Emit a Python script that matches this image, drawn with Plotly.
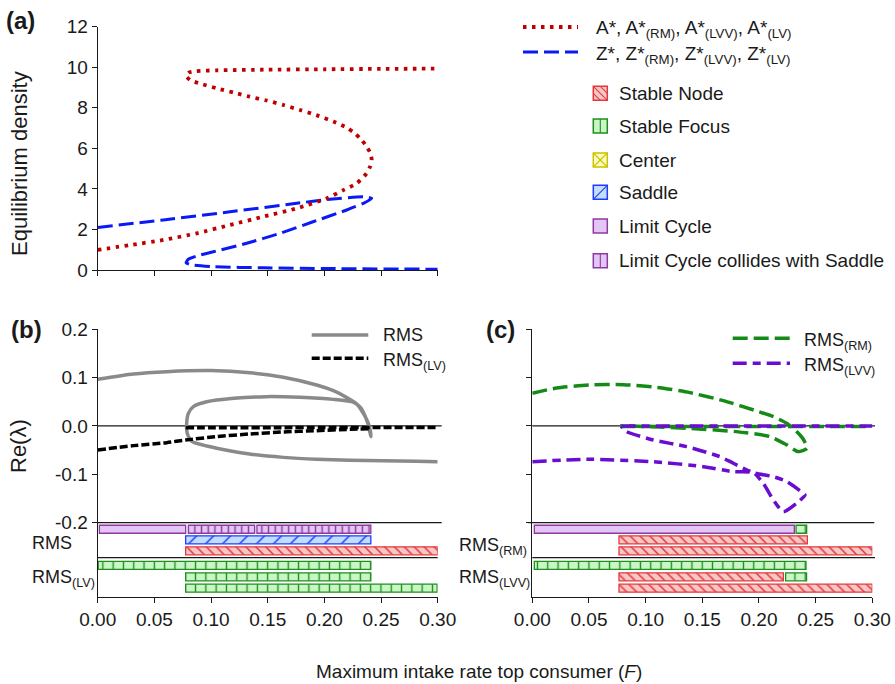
import plotly.graph_objects as go

W, H = 895, 684
FONT = "Arial, Liberation Sans, sans-serif"
INK = "#1a1a1a"

# ---------------- data ----------------
F_TICKS = [0.00, 0.05, 0.10, 0.15, 0.20, 0.25, 0.30]
DENS_TICKS = [0, 2, 4, 6, 8, 10, 12]
RE_TICKS = [-0.2, -0.1, 0.0, 0.1, 0.2]
RE_TICK_TEXT = ["-0.2", "-0.1", "0.0", "0.1", "0.2"]

# (a) equilibrium densities (A* red, Z* blue) along the fold curves
A_F = [0.0, 0.0285, 0.0579, 0.0874, 0.1167, 0.146, 0.1756, 0.202, 0.2167, 0.2285, 0.2373, 0.2403, 0.2418,
       0.2403, 0.2365, 0.2315, 0.2255, 0.2197, 0.208, 0.193, 0.1785, 0.1638, 0.149, 0.134, 0.12, 0.105,
       0.09, 0.0815, 0.078, 0.080, 0.087, 0.105, 0.15, 0.20, 0.25, 0.30]
A_DENS = [0.99, 1.23, 1.48, 1.81, 2.22, 2.63, 3.04, 3.53, 3.94, 4.27, 4.77, 5.1, 5.42,
          5.8, 6.15, 6.5, 6.8, 7.02, 7.32, 7.64, 7.89, 8.14, 8.36, 8.55, 8.75, 8.96,
          9.2, 9.37, 9.57, 9.73, 9.81, 9.85, 9.88, 9.9, 9.92, 9.93]
Z_F = [0.0, 0.058, 0.1167, 0.1756, 0.205, 0.2344, 0.2418,
       0.2344, 0.2197, 0.19, 0.161, 0.1315, 0.102, 0.0874, 0.080, 0.078,
       0.083, 0.102, 0.146, 0.205, 0.30]
Z_DENS = [2.1, 2.47, 2.87, 3.29, 3.49, 3.61, 3.53,
          3.29, 2.96, 2.38, 1.81, 1.32, 0.90, 0.69, 0.53, 0.36,
          0.25, 0.16, 0.11, 0.07, 0.04]

# (b) Re(lambda): RMS (grey) and RMS(LV) (black dashed)
RMS_F = [0.0, 0.0315, 0.0609, 0.1, 0.1344, 0.1638, 0.1932, 0.208, 0.2197, 0.2285, 0.2344, 0.2388, 0.2409, 0.241,
         0.239, 0.236, 0.232, 0.226, 0.208, 0.1785, 0.149, 0.12, 0.0962, 0.0844, 0.080, 0.0785, 0.079, 0.083,
         0.105, 0.134, 0.1638, 0.193, 0.2226, 0.252, 0.2815, 0.30]
RMS_RE = [0.0966, 0.1076, 0.1124, 0.1145, 0.110, 0.1007, 0.0848, 0.073, 0.059, 0.0455, 0.026, 0.0055, -0.015, -0.022,
          0.0, 0.02, 0.038, 0.049, 0.055, 0.0593, 0.0607, 0.0572, 0.050, 0.040, 0.026, 0.0055, -0.015, -0.032,
          -0.046, -0.058, -0.065, -0.069, -0.071, -0.072, -0.073, -0.074]
LV_F_1 = [0.0, 0.0315, 0.0609, 0.0776, 0.105, 0.134, 0.164, 0.193, 0.2226, 0.240]
LV_RE_1 = [-0.0497, -0.0407, -0.0345, -0.029, -0.022, -0.0166, -0.0124, -0.0097, -0.0069, -0.0055]
LV_F_2 = [0.0776, 0.12, 0.16, 0.20, 0.24, 0.30]
LV_RE_2 = [-0.0035, -0.0035, -0.0035, -0.003, -0.003, -0.003]

# (c) Re(lambda): RMS(RM) (green) and RMS(LVV) (purple)
RM_F_1 = [0.0, 0.0215, 0.0509, 0.0803, 0.1097, 0.139, 0.1685, 0.198, 0.2126, 0.2244, 0.2332, 0.2391, 0.2424,
          0.2347, 0.2244, 0.2097, 0.180, 0.136, 0.1068, 0.0774]
RM_RE_1 = [0.0676, 0.0786, 0.0848, 0.0855, 0.080, 0.069, 0.0524, 0.031, 0.0193, 0.0055, -0.0117, -0.0276, -0.046,
           -0.053, -0.039, -0.022, -0.0117, -0.0048, -0.0014, 0.0]
RM_F_2 = [0.0774, 0.15, 0.20, 0.25, 0.30]
RM_RE_2 = [-0.001, -0.001, -0.001, -0.001, -0.001]
LVV_F_1 = [0.0, 0.048, 0.1068, 0.1509, 0.1774, 0.195, 0.2038, 0.2127, 0.2215, 0.2333, 0.2406,
           0.2391, 0.2245, 0.2127, 0.195, 0.1774, 0.1656, 0.1362, 0.1068, 0.0833, 0.0803, 0.0788]
LVV_RE_1 = [-0.0739, -0.0689, -0.0739, -0.0842, -0.0946, -0.0966, -0.1186, -0.1531, -0.1773, -0.16, -0.1428,
            -0.1393, -0.1152, -0.1049, -0.0966, -0.0772, -0.0635, -0.0428, -0.029, -0.0118, -0.0048, -0.001]
LVV_F_2 = [0.0788, 0.15, 0.20, 0.25, 0.30]
LVV_RE_2 = [0.0, 0.0, 0.0, 0.0, 0.0]

# stability bars (row index, state, start F, end F)
B_ROW = [0, 0, 0, 1, 2, 3, 4, 5]
B_STATE = ["lc", "lcs", "lcs", "saddle", "node", "focus", "focus", "focus"]
B_START = [0.0015, 0.080, 0.1405, 0.0776, 0.0776, 0.0005, 0.0776, 0.0776]
B_END = [0.0776, 0.1385, 0.241, 0.241, 0.30, 0.241, 0.241, 0.2995]

C_ROW = [0, 0, 1, 2, 3, 4, 4, 5]
C_STATE = ["lc", "focus", "node", "node", "focus", "node", "focus", "node"]
C_START = [0.0018, 0.2327, 0.0765, 0.0765, 0.0018, 0.0765, 0.2235, 0.0765]
C_END = [0.2312, 0.2421, 0.2427, 0.30, 0.2415, 0.2215, 0.242, 0.30]

LEGEND_STATES = ["node", "focus", "center", "saddle", "lc", "lcs"]

# ---------------- styles / layout constants ----------------
STYLE = {
    "node":   dict(name="Stable Node", fill="#F9C6C6", edge="#E2383C", shape="\\", size=7, sol=0.22),
    "focus":  dict(name="Stable Focus", fill="#C8F6C4", edge="#1F8E1F", shape="|", size=10.3, sol=0.13),
    "center": dict(name="Center", fill="#FBFBC0", edge="#C8C200", shape="x", size=7, sol=0.2),
    "saddle": dict(name="Saddle", fill="#C2DEFF", edge="#1E3CFF", shape="/", size=12, sol=0.12),
    "lc":     dict(name="Limit Cycle", fill="#E4C6F6", edge="#8E3A9E", shape="", size=8, sol=0.2),
    "lcs":    dict(name="Limit Cycle collides with Saddle", fill="#E4C6F6", edge="#8E3A9E", shape="|", size=6.7, sol=0.22),
}
ROW_Y = [-0.2137, -0.2356, -0.2583, -0.2886, -0.3121, -0.3356]
BAR_H = 0.0166
Y2_RANGE = [-0.3545, 0.2]


def PX(x):
    return x / W


def PY(y):
    return 1 - y / H


fig = go.Figure()

# ---- bars ----
def add_bars(rows, states, starts, ends, xa, ya):
    for r, s, a, b in zip(rows, states, starts, ends):
        st = STYLE[s]
        marker = dict(color=st["fill"], line=dict(color=st["edge"], width=1.3))
        if st["shape"]:
            marker["pattern"] = dict(shape=st["shape"], fgcolor=st["edge"], bgcolor=st["fill"],
                                     size=st["size"], solidity=st["sol"], fillmode="replace")
        fig.add_trace(go.Bar(orientation="h", y=[ROW_Y[r]], x=[b - a], base=[a], width=BAR_H,
                             marker=marker, xaxis=xa, yaxis=ya, showlegend=False, hoverinfo="skip"))


add_bars(B_ROW, B_STATE, B_START, B_END, "x2", "y2")
add_bars(C_ROW, C_STATE, C_START, C_END, "x3", "y3")

# ---- curves ----
DOT = "3.5px,5.5px"
fig.add_trace(go.Scatter(x=Z_F, y=Z_DENS, mode="lines", xaxis="x", yaxis="y", showlegend=False,
                         line=dict(color="#0A1AF5", width=3, dash="15px,6px", shape="spline", smoothing=0.6)))
fig.add_trace(go.Scatter(x=A_F, y=A_DENS, mode="lines", xaxis="x", yaxis="y", showlegend=False,
                         line=dict(color="#C00000", width=3.8, dash=DOT, shape="spline", smoothing=0.6)))

fig.add_trace(go.Scatter(x=RMS_F, y=RMS_RE, mode="lines", xaxis="x2", yaxis="y2", showlegend=False,
                         line=dict(color="#8A8A8A", width=3.5, shape="spline", smoothing=0.6)))
for fx, fy in [(LV_F_1, LV_RE_1), (LV_F_2, LV_RE_2)]:
    fig.add_trace(go.Scatter(x=fx, y=fy, mode="lines", xaxis="x2", yaxis="y2", showlegend=False,
                             line=dict(color="#000000", width=3.5, dash="8px,3px", shape="spline", smoothing=0.6)))

for fx, fy in [(RM_F_2, RM_RE_2), (RM_F_1, RM_RE_1)]:
    fig.add_trace(go.Scatter(x=fx, y=fy, mode="lines", xaxis="x3", yaxis="y3", showlegend=False,
                             line=dict(color="#168A16", width=3.5, dash="15px,6px", shape="spline", smoothing=0.6)))
for fx, fy in [(LVV_F_2, LVV_RE_2), (LVV_F_1, LVV_RE_1)]:
    fig.add_trace(go.Scatter(x=fx, y=fy, mode="lines", xaxis="x3", yaxis="y3", showlegend=False,
                             line=dict(color="#6A0DD0", width=3.5, dash="14px,6px,8px,6px", shape="spline",
                                       smoothing=0.6)))

# ---------------- axes ----------------
ax_common = dict(showline=True, linecolor=INK, linewidth=1.2, ticks="outside", ticklen=5,
                 tickcolor=INK, tickwidth=1.2, showgrid=False, zeroline=False,
                 tickfont=dict(family=FONT, size=19, color=INK))
XA = [PX(97.7), PX(437.7)]
XC = [PX(532.3), PX(872.3)]
YA = [PY(270), PY(26.7)]
YB = [PY(597.3), PY(329.3)]

fig.update_layout(
    xaxis=dict(ax_common, domain=XA, range=[0, 0.30], tickvals=F_TICKS, showticklabels=False, anchor="y"),
    yaxis=dict(ax_common, domain=YA, range=[0, 12], tickvals=DENS_TICKS, anchor="x"),
    xaxis2=dict(ax_common, domain=XA, range=[0, 0.30], tickvals=F_TICKS, tickformat=".2f", anchor="y2"),
    yaxis2=dict(ax_common, domain=YB, range=Y2_RANGE, tickvals=RE_TICKS, ticktext=RE_TICK_TEXT, anchor="x2"),
    xaxis3=dict(ax_common, domain=XC, range=[0, 0.30], tickvals=F_TICKS, tickformat=".2f", anchor="y3"),
    yaxis3=dict(ax_common, domain=YB, range=Y2_RANGE, tickvals=RE_TICKS, showticklabels=False, anchor="x3"),
    barmode="overlay",
    width=W, height=H,
    margin=dict(l=0, r=0, t=0, b=0),
    paper_bgcolor="white", plot_bgcolor="rgba(0,0,0,0)",
    template="none",
    font=dict(family=FONT, color=INK),
)

shapes = []
# reference lines in (b) and (c)
for yv, x0, x1 in [(0.0, 97.7, 441.7), (-0.2, 97.7, 441.7), (-0.2724, 97.7, 437.7)]:
    shapes.append(dict(type="line", xref="paper", yref="y2", x0=PX(x0), x1=PX(x1), y0=yv, y1=yv,
                       line=dict(color=INK, width=1.2), layer="below"))
for yv, x0, x1 in [(0.0, 532.3, 875), (-0.2, 528.3, 874.3), (-0.2724, 532.3, 875)]:
    shapes.append(dict(type="line", xref="paper", yref="y3", x0=PX(x0), x1=PX(x1), y0=yv, y1=yv,
                       line=dict(color=INK, width=1.2), layer="below"))


def leg_line(x0, x1, y, color, width, dash):
    shapes.append(dict(type="line", xref="paper", yref="paper", x0=PX(x0), x1=PX(x1), y0=PY(y), y1=PY(y),
                       line=dict(color=color, width=width, dash=dash)))


leg_line(523, 578, 27, "#C00000", 3.8, DOT)
leg_line(523, 578, 52, "#0A1AF5", 3, "15px,6px")
leg_line(311.7, 368.3, 335, "#8A8A8A", 3.5, "solid")
leg_line(311.7, 368.3, 358.3, "#000000", 3.5, "8px,3px")
leg_line(732.7, 790, 338.3, "#168A16", 3.5, "15px,6px")
leg_line(732.7, 790, 363.3, "#6A0DD0", 3.5, "14px,6px,8px,6px")

# pattern legend swatches
SW_X0, SW_X1 = 593.3, 607.3
SW_Y = [93.3, 126, 160, 192.3, 226, 260.7]


def seg(xa, ya, xb, yb, color):
    shapes.append(dict(type="line", xref="paper", yref="paper", x0=PX(xa), y0=PY(ya), x1=PX(xb), y1=PY(yb),
                       line=dict(color=color, width=1.1)))


for key, cy in zip(LEGEND_STATES, SW_Y):
    st = STYLE[key]
    x0, x1, y0, y1 = SW_X0, SW_X1, cy - 7, cy + 7
    shapes.append(dict(type="rect", xref="paper", yref="paper", x0=PX(x0), x1=PX(x1), y0=PY(y1), y1=PY(y0),
                       fillcolor=st["fill"], line=dict(color=st["edge"], width=1.5)))
    xm = (x0 + x1) / 2
    if key == "node":
        seg(x0, y0, x1, y1, st["edge"])
        seg(x0 + 7, y0, x1, y1 - 7, st["edge"])
        seg(x0, y0 + 7, x1 - 7, y1, st["edge"])
    elif key in ("focus", "lcs"):
        seg(xm, y0, xm, y1, st["edge"])
    elif key == "center":
        seg(x0, y0, x1, y1, st["edge"])
        seg(x0, y1, x1, y0, st["edge"])
    elif key == "saddle":
        seg(x0, y1, x1, y0, st["edge"])

fig.update_layout(shapes=shapes)

ann = []


def text(x, y, s, size=19, xanchor="left", yanchor="middle", bold=False, angle=0):
    ann.append(dict(x=PX(x), y=PY(y), xref="paper", yref="paper", text=("<b>%s</b>" % s) if bold else s,
                    showarrow=False, xanchor=xanchor, yanchor=yanchor, textangle=angle,
                    font=dict(family=FONT, size=size, color=INK)))


text(4, 21, "(a)", size=24, bold=True)
text(9, 330, "(b)", size=24, bold=True)
text(484, 330, "(c)", size=24, bold=True)

text(20, 164, "Equilibrium density", size=22, xanchor="center", angle=-90)
text(18, 446, "Re(λ)", size=22, xanchor="center", angle=-90)
text(479, 671, "Maximum intake rate top consumer (<i>F</i>)", size=19, xanchor="center")

text(594, 29, "A*, A*<sub>(RM)</sub>, A*<sub>(LVV)</sub>, A*<sub>(LV)</sub>", size=19)
text(594, 55, "Z*, Z*<sub>(RM)</sub>, Z*<sub>(LVV)</sub>, Z*<sub>(LV)</sub>", size=19)
for key, cy in zip(LEGEND_STATES, SW_Y):
    text(616.7, cy, STYLE[key]["name"], size=19)

text(381, 335, "RMS", size=18)
text(381, 361, "RMS<sub>(LV)</sub>", size=18)
text(802, 341, "RMS<sub>(RM)</sub>", size=18)
text(802, 366, "RMS<sub>(LVV)</sub>", size=18)

text(30, 543, "RMS", size=18)
text(30, 578, "RMS<sub>(LV)</sub>", size=18)
text(457, 546, "RMS<sub>(RM)</sub>", size=18)
text(457, 578, "RMS<sub>(LVV)</sub>", size=18)

fig.update_layout(annotations=ann)

fig.write_html("out.html", config={"displayModeBar": False},
               post_script="document.body.style.margin='0px';document.body.style.overflow='hidden';")
